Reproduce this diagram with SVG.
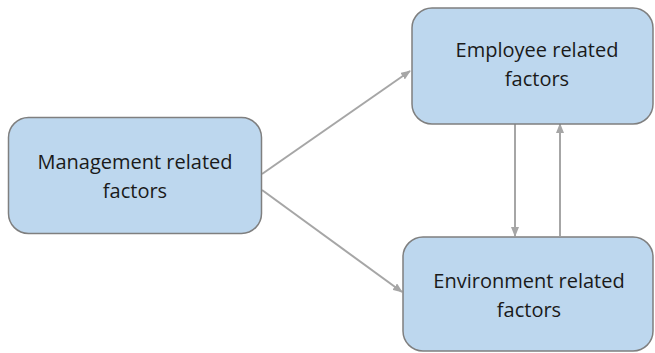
<svg xmlns="http://www.w3.org/2000/svg" width="655" height="353" viewBox="0 0 655 353">
  <defs>
    <marker id="arrow" markerWidth="10" markerHeight="8" refX="9" refY="4" orient="auto" markerUnits="userSpaceOnUse">
      <path d="M0,0 L10,4 L0,8 Z" fill="#A6A6A6"/>
    </marker>
    <style>
      .box { fill: #BDD7EE; stroke: #7F7F7F; stroke-width: 1.5; }
      .label { font-family: "Open Sans", "Liberation Sans", sans-serif; font-size: 20px; fill: #1A1A1A; text-anchor: middle; }
      .edge { stroke: #A6A6A6; stroke-width: 2; fill: none; marker-end: url(#arrow); }
    </style>
  </defs>
  <rect width="655" height="353" fill="#FFFFFF"/>

  <g id="connectors">
    <line class="edge" x1="262" y1="174" x2="410" y2="71"/>
    <line class="edge" x1="262" y1="190" x2="402" y2="292"/>
    <line class="edge" x1="515" y1="124" x2="515" y2="236"/>
    <line class="edge" x1="560" y1="236" x2="560" y2="124"/>
  </g>

  <g id="management">
    <rect class="box" x="8.5" y="117.5" width="253" height="116" rx="20"/>
    <text class="label" x="135" y="169">Management related</text>
    <text class="label" x="135" y="198">factors</text>
  </g>

  <g id="employee">
    <rect class="box" x="412" y="8" width="241" height="116" rx="20"/>
    <text class="label" x="537" y="57">Employee related</text>
    <text class="label" x="537" y="86">factors</text>
  </g>

  <g id="environment">
    <rect class="box" x="403" y="237" width="250" height="114" rx="20"/>
    <text class="label" x="529" y="288">Environment related</text>
    <text class="label" x="529" y="317">factors</text>
  </g>
</svg>
